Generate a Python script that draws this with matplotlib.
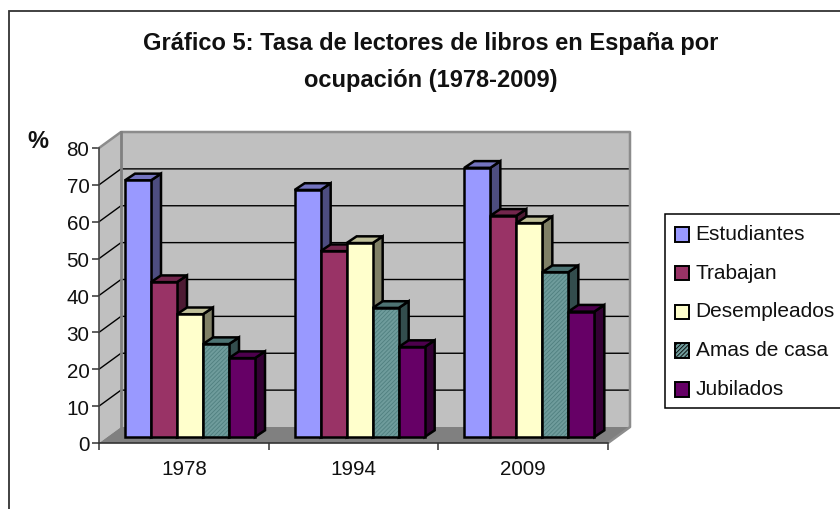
import matplotlib
matplotlib.use("Agg")
import numpy as np
import matplotlib.pyplot as plt
from matplotlib.patches import Patch, Rectangle

plt.rcParams['font.family'] = ['Liberation Sans', 'DejaVu Sans']
plt.rcParams['hatch.linewidth'] = 0.6

years = ["1978", "1994", "2009"]
series_names = ["Estudiantes", "Trabajan", "Desempleados", "Amas de casa", "Jubilados"]
estudiantes = [69.6, 67.0, 73.0]
trabajan = [42.0, 50.4, 60.0]
desempleados = [33.3, 52.6, 58.0]
amas_de_casa = [25.2, 35.0, 44.7]
jubilados = [21.4, 24.4, 34.0]
y_ticks = [0, 10, 20, 30, 40, 50, 60, 70, 80]

front_colors = ["#9999FF", "#993366", "#FFFFCC", "#6F9C9C", "#660066"]
top_colors = ["#7373BF", "#73264D", "#BFBF99", "#4D7373", "#4D004D"]
side_colors = ["#4D4D80", "#4D1A33", "#808066", "#334D4D", "#330033"]

W, H = 840, 510
fig = plt.figure(figsize=(W / 100, H / 100), dpi=100)
ax = fig.add_axes([99 / W, (H - 444) / H, 509 / W, 295 / H])
ax.set_xlim(0, 3)
ax.set_ylim(0, 80)
ax.patch.set_visible(False)

# 3d look: offsets in data units
wall_dx = 22 / (509 / 3)
wall_dy = 16 / (295 / 80)
bar_dx = 10 / (509 / 3)
bar_dy = 6.7 / (295 / 80)
bar_w = 26 / (509 / 3)
bar_start = 26 / (509 / 3)
bar_base = 6 / (295 / 80)

# walls and floor
ax.fill([0, wall_dx, wall_dx, 0], [0, wall_dy, 80 + wall_dy, 80], color="#C0C0C0", clip_on=False, zorder=1, lw=0)
ax.fill([wall_dx, 3 + wall_dx, 3 + wall_dx, wall_dx], [wall_dy, wall_dy, 80 + wall_dy, 80 + wall_dy],
        color="#C0C0C0", clip_on=False, zorder=1, lw=0)
ax.fill([0, 3, 3 + wall_dx, wall_dx], [0, 0, wall_dy, wall_dy], color="#808080", clip_on=False, zorder=1, lw=0)

for t in y_ticks[1:-1]:
    ax.plot([0, wall_dx, 3 + wall_dx], [t, t + wall_dy, t + wall_dy], color="black", lw=1,
            clip_on=False, zorder=2)

ax.plot([0, wall_dx, 3 + wall_dx, 3 + wall_dx, 3], [80, 80 + wall_dy, 80 + wall_dy, wall_dy, 0],
        color="#8C8C8C", lw=1.8, clip_on=False, zorder=2)
ax.plot([wall_dx, wall_dx], [wall_dy, 80 + wall_dy], color="#808080", lw=2, clip_on=False, zorder=2)

all_values = [estudiantes, trabajan, desempleados, amas_de_casa, jubilados]
x = np.arange(len(years))
z = 3
for i, values in enumerate(all_values):
    for j, v in enumerate(values):
        x0 = x[j] + bar_start + i * bar_w
        x1 = x0 + bar_w
        y0 = bar_base
        y1 = bar_base + v
        # side and top
        ax.fill([x1, x1 + bar_dx, x1 + bar_dx, x1], [y0, y0 + bar_dy, y1 + bar_dy, y1],
                facecolor=side_colors[i], edgecolor="black", lw=1.8, clip_on=False, zorder=z)
        ax.fill([x0, x1, x1 + bar_dx, x0 + bar_dx], [y1, y1, y1 + bar_dy, y1 + bar_dy],
                facecolor=top_colors[i], edgecolor="black", lw=1.8, clip_on=False, zorder=z)
        if i == 3:
            ax.bar(x0, v, bar_w, bottom=y0, align="edge", facecolor=front_colors[i], edgecolor="#4F7F7F",
                   hatch="////////", lw=0, clip_on=False, zorder=z)
            ax.bar(x0, v, bar_w, bottom=y0, align="edge", fill=False, edgecolor="black", lw=1.8,
                   clip_on=False, zorder=z)
        else:
            ax.bar(x0, v, bar_w, bottom=y0, align="edge", color=front_colors[i], edgecolor="black", lw=1.8,
                   clip_on=False, zorder=z)
    z += 1

# axes
for s in ["top", "right"]:
    ax.spines[s].set_visible(False)
ax.spines["left"].set_color("#444444")
ax.spines["left"].set_linewidth(1.2)
ax.spines["bottom"].set_color("#333333")
ax.spines["bottom"].set_linewidth(1.2)
ax.spines["left"].set_zorder(20)
ax.spines["bottom"].set_zorder(20)
ax.set_yticks(y_ticks)
ax.set_xticks(np.arange(4))
ax.set_xticks(x + 0.5, years, minor=True)
ax.set_xticklabels([])
ax.tick_params(axis="x", which="major", length=5, width=1.1, color="#333333")
ax.tick_params(axis="x", which="minor", length=0, labelsize=14.9, pad=11.5, labelcolor="#111111")
ax.tick_params(axis="y", length=5, width=1.1, color="#333333", labelsize=14.9, pad=2, labelcolor="#111111")

# chart frame, runs off the right and bottom of the picture
fig.add_artist(Rectangle((8.5 / W, -0.02), 1, (H - 12) / H + 0.02, transform=fig.transFigure,
                         facecolor="none", edgecolor="#333333", lw=1.3, zorder=0))

fig.text(431 / W, (H - 62) / H, "Gráfico 5: Tasa de lectores de libros en España por\nocupación (1978-2009)",
         ha="center", va="center", fontsize=17, fontweight="bold", linespacing=1.78, color="#111111")
fig.text(38 / W, (H - 141) / H, "%", ha="center", va="center", fontsize=17, fontweight="bold", color="#111111")

handles = []
for i, name in enumerate(series_names):
    if i == 3:
        handles.append(Patch(facecolor=front_colors[i], edgecolor="black", hatch="////////", lw=1.4, label=name))
    else:
        handles.append(Patch(facecolor=front_colors[i], edgecolor="black", lw=1.4, label=name))
leg = fig.legend(handles=handles, loc="upper left", bbox_to_anchor=(665 / W, (H - 215) / H), fontsize=15,
                 frameon=True, fancybox=False, edgecolor="black", framealpha=1, borderaxespad=0,
                 handlelength=0.7, handleheight=0.7, handletextpad=0.3, labelspacing=0.95, borderpad=0.47,
                 labelcolor="#111111")
leg.get_frame().set_linewidth(1.1)
# swatches sit a little below the text middle
for h in leg.legend_handles:
    h.set_y(h.get_y() - 2)

fig.savefig("out.png", dpi=100)
